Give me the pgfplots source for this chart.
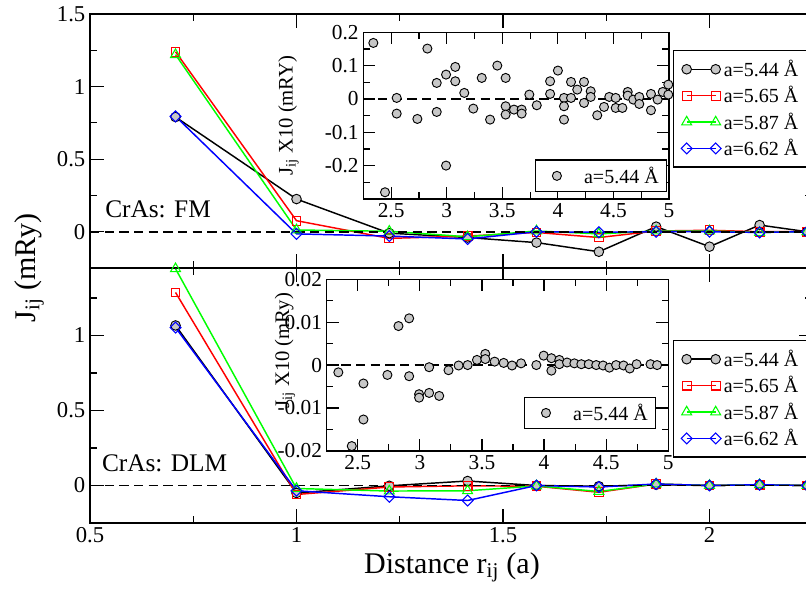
\documentclass[border=0pt]{standalone}
\usepackage{fontspec}
\setmainfont{Liberation Serif}
\usepackage{pgfplots}
\pgfplotsset{compat=1.18}

% xmgrace-like look
\pgfplotsset{
  grace/.style={
    scale only axis,
    axis line style={line width=1.1pt},
    every tick/.style={black, line width=0.9pt},
    tick align=inside,
    major tick length=10.5pt,
    minor tick length=5.5pt,
    tick label style={font=\rmfamily\fontsize{17}{18}\selectfont},
    xticklabel={\pgfmathprintnumber[assume math mode=true]{\tick}},
    yticklabel={\pgfmathprintnumber[assume math mode=true]{\tick}},
    /pgf/number format/fixed,
    /pgf/number format/precision=2,
    scaled ticks=false,
  },
  mainleg/.style={
    legend style={font=\rmfamily\fontsize{15}{17}\selectfont, draw=black, line width=1pt,
      fill=white, anchor=north west, row sep=2pt, inner xsep=6pt, inner ysep=5pt},
    legend cell align=left,
    legend image code/.code={\draw[##1] plot coordinates {(0pt,0pt) (21.75pt,0pt)};},
  },
  inset/.style={
    grace,
    major tick length=9pt,
    minor tick length=5pt,
    tick label style={font=\rmfamily\fontsize{16}{18}\selectfont},
    axis background/.style={fill=white},
    xmin=2.25, xmax=5,
    xtick={2.5,3,3.5,4,4.5,5},
    minor xtick={2.75,3.25,3.75,4.25,4.75},
    ylabel style={font=\rmfamily\fontsize{15.5}{17}\selectfont, anchor=south},
    legend style={font=\rmfamily\fontsize{15}{17}\selectfont, draw=black, line width=0.8pt,
      fill=white, anchor=south east, inner xsep=4pt, inner ysep=3pt},
    legend image code/.code={\draw[##1] plot coordinates {(0pt,0pt)}; \path (-12pt,0pt) (18pt,0pt);},
  },
  s544/.style={black, line width=1.1pt, mark=*, mark size=3.6pt,
    mark options={solid, fill=black!22, draw=black, line width=0.7pt}},
  s565/.style={red, line width=1.1pt, mark=square, mark size=3.3pt,
    mark options={solid, line width=0.8pt}},
  s587/.style={green, line width=1.1pt, mark=triangle, mark size=4.3pt,
    mark options={solid, line width=0.8pt}},
  s662/.style={blue, line width=1.1pt, mark=square, mark size=2.9pt,
    mark options={solid, rotate=45, line width=0.8pt}},
  zero/.style={black, line width=1.2pt, dash pattern=on 7pt off 4pt, forget plot},
  dots/.style={only marks, mark=*, mark size=3.4pt,
    mark options={fill=black!22, draw=black, line width=0.7pt}},
}

\begin{document}
\begin{tikzpicture}
\useasboundingbox (0pt,0pt) rectangle (604.5pt,-446.25pt);
\clip (0pt,0pt) rectangle (604.5pt,-446.25pt);

% ---------- upper panel: FM ----------
\begin{axis}[grace, mainleg,
    at={(67.5pt,-10.5pt)}, anchor=north west,
    width=542.06pt, height=190.5pt,
    xmin=0.5, xmax=2.25, ymin=-0.25, ymax=1.5,
    xtick={0.5,1,1.5,2}, minor xtick={0.75,1.25,1.75},
    ytick={0,0.5,1,1.5}, minor ytick={0.25,0.75,1.25},
    xticklabels={},
    legend style={at={(0.806,0.858)}},
]
\addplot[s544] coordinates {(0.7071,0.79) (1.0,0.225) (1.2247,-0.01) (1.4142,-0.04) (1.5811,-0.075) (1.7321,-0.138) (1.8708,0.035) (2.0,-0.103) (2.1213,0.046) (2.2361,0.0)};
\addlegendentry{a=5.44 Å}
\addplot[s565] coordinates {(0.7071,1.24) (1.0,0.076) (1.2247,-0.046) (1.4142,-0.03) (1.5811,-0.005) (1.7321,-0.04) (1.8708,0.005) (2.0,0.01) (2.1213,0.0) (2.2361,0.0)};
\addlegendentry{a=5.65 Å}
\addplot[s587] coordinates {(0.7071,1.22) (1.0,0.012) (1.2247,0.003) (1.4142,-0.035) (1.5811,0.005) (1.7321,-0.015) (1.8708,0.005) (2.0,0.005) (2.1213,-0.005) (2.2361,0.0)};
\addlegendentry{a=5.87 Å}
\addplot[s662] coordinates {(0.7071,0.795) (1.0,-0.015) (1.2247,-0.03) (1.4142,-0.05) (1.5811,0.0) (1.7321,-0.004) (1.8708,0.0) (2.0,0.0) (2.1213,-0.005) (2.2361,0.0)};
\addlegendentry{a=6.62 Å}
\addplot[zero] coordinates {(0.5,0) (2.25,0)};
\end{axis}

% ---------- lower panel: DLM ----------
\begin{axis}[grace, mainleg,
    at={(67.5pt,-201pt)}, anchor=north west,
    width=542.06pt, height=191.25pt,
    xmin=0.5, xmax=2.25, ymin=-0.25, ymax=1.45,
    xtick={0.5,1,1.5,2}, minor xtick={0.75,1.25,1.75},
    ytick={0,0.5,1}, minor ytick={0.25,0.75,1.25},
    legend style={at={(0.806,0.7176)}},
]
\addplot[s544] coordinates {(0.7071,1.067) (1.0,-0.05) (1.2247,-0.002) (1.4142,0.03) (1.5811,0.0) (1.7321,-0.005) (1.8708,0.005) (2.0,0.0) (2.1213,0.005) (2.2361,0.0)};
\addlegendentry{a=5.44 Å}
\addplot[s565] coordinates {(0.7071,1.287) (1.0,-0.06) (1.2247,-0.01) (1.4142,-0.002) (1.5811,-0.005) (1.7321,-0.045) (1.8708,0.01) (2.0,0.0) (2.1213,0.005) (2.2361,0.0)};
\addlegendentry{a=5.65 Å}
\addplot[s587] coordinates {(0.7071,1.445) (1.0,-0.02) (1.2247,-0.037) (1.4142,-0.035) (1.5811,-0.003) (1.7321,-0.04) (1.8708,0.01) (2.0,0.0) (2.1213,0.005) (2.2361,0.0)};
\addlegendentry{a=5.87 Å}
\addplot[s662] coordinates {(0.7071,1.053) (1.0,-0.035) (1.2247,-0.075) (1.4142,-0.1) (1.5811,0.0) (1.7321,-0.01) (1.8708,0.01) (2.0,0.0) (2.1213,0.005) (2.2361,0.0)};
\addlegendentry{a=6.62 Å}
\addplot[zero] coordinates {(0.5,0) (2.25,0)};
\end{axis}

% ---------- inset, FM ----------
\begin{axis}[inset,
    at={(272.5pt,-24.2pt)}, anchor=north west,
    width=229.3pt, height=125pt,
    ymin=-0.3, ymax=0.2,
    ytick={-0.2,-0.1,0,0.1,0.2}, minor ytick={-0.25,-0.15,-0.05,0.05,0.15},
    ylabel={J\textsubscript{ij} X10 (mRY)},
    ylabel style={at={([xshift=-45pt]rel axis cs:0,0.5)}},
    legend style={at={(0.994,0.04)}},
]
\addplot[zero] coordinates {(2.25,0) (5,0)};
\addplot[dots] coordinates {
 (2.34,0.168) (2.445,-0.28) (2.55,0.003) (2.55,-0.044) (2.736,-0.06)
 (2.826,0.151) (2.91,0.048) (2.91,-0.039) (2.994,0.073) (2.994,-0.2)
 (3.077,0.096) (3.077,0.053) (3.158,0.018) (3.239,-0.029) (3.315,0.063)
 (3.39,-0.062) (3.455,0.1) (3.53,0.063) (3.53,-0.022) (3.53,-0.047)
 (3.605,-0.032) (3.674,-0.032) (3.674,-0.044) (3.743,0.013) (3.81,-0.019)
 (3.93,0.053) (3.93,0.015) (4.0,0.085) (4.055,0.003) (4.055,-0.022)
 (4.055,-0.062) (4.118,0.051) (4.118,0.003) (4.174,0.028) (4.235,0.051)
 (4.235,-0.012) (4.295,0.023) (4.295,0.006) (4.354,-0.049) (4.415,-0.024)
 (4.462,0.006) (4.52,0.003) (4.52,-0.027) (4.58,-0.027) (4.628,0.021)
 (4.628,0.01) (4.678,-0.002) (4.732,0.006) (4.732,-0.015) (4.837,0.015)
 (4.837,-0.034) (4.897,-0.002) (4.943,0.021) (4.993,0.043) (4.993,0.013)
};
\addlegendentry{a=5.44 Å}
\end{axis}

% ---------- inset, DLM ----------
\begin{axis}[inset,
    at={(245pt,-209.5pt)}, anchor=north west,
    width=256.2pt, height=128.6pt,
    ymin=-0.02, ymax=0.02,
    ytick={-0.02,-0.01,0,0.01,0.02}, minor ytick={-0.015,-0.005,0.005,0.015},
    ylabel={J\textsubscript{ij} X10 (mRy)},
    ylabel style={at={([xshift=-20pt]rel axis cs:0,0.583)}},
    legend style={at={(0.965,0.125)}},
]
\addplot[zero] coordinates {(2.25,0) (5,0)};
\addplot[dots] coordinates {
 (2.344,-0.0017) (2.452,-0.0189) (2.546,-0.0043) (2.546,-0.0127) (2.739,-0.0023)
 (2.828,0.0091) (2.914,0.0109) (2.914,-0.0026) (2.994,-0.0068) (2.994,-0.0076)
 (3.075,-0.0065) (3.075,-0.0005) (3.156,-0.0072) (3.231,-0.0012) (3.312,-0.0001)
 (3.385,0) (3.46,0.0012) (3.527,0.0026) (3.527,0.0014) (3.602,0.0008)
 (3.675,0.0005) (3.742,-0.0001) (3.815,0.0004) (3.938,0) (3.997,0.0022)
 (4.059,0.0016) (4.059,-0.0013) (4.123,0.0012) (4.123,0.0002) (4.185,0.0006)
 (4.244,0.0004) (4.3,0.0002) (4.36,0.0002) (4.42,0) (4.475,-0.0001)
 (4.526,-0.0006) (4.58,0) (4.64,-0.0001) (4.69,-0.0008) (4.745,0.0002)
 (4.857,0.0002) (4.91,0)
};
\addlegendentry{a=5.44 Å}
\end{axis}

% panel texts and shared axis labels
\node[anchor=base west, inner sep=0pt, font=\fontsize{19}{21}\selectfont] at (78.75pt,-163.5pt) {CrAs: FM};
\node[anchor=base west, inner sep=0pt, font=\fontsize{19}{21}\selectfont] at (76.3pt,-353.25pt) {CrAs: DLM};
\node[anchor=base, rotate=90, inner sep=0pt, font=\fontsize{22.5}{25}\selectfont] at (26.25pt,-201pt) {J\textsubscript{ij} (mRy)};
\node[anchor=base, inner sep=0pt, font=\fontsize{22.5}{25}\selectfont] at (339pt,-429.75pt) {Distance r\textsubscript{ij} (a)};
\end{tikzpicture}
\end{document}
